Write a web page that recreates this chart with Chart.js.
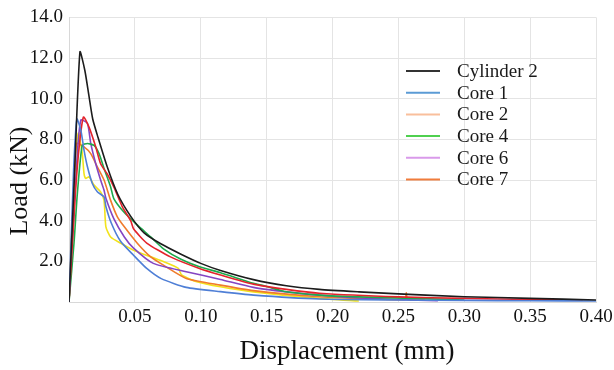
<!DOCTYPE html>
<html>
<head>
<meta charset="utf-8">
<script src="https://cdn.jsdelivr.net/npm/chart.js@4/dist/chart.umd.min.js"></script>
<style>
  html, body { margin: 0; padding: 0; background: #fff; }
  #wrap { width: 614px; height: 370px; }
</style>
</head>
<body>
<div id="wrap"><canvas id="myChart" width="614" height="370"></canvas></div>
<script>
// series names and colours (legend swatches are drawn lighter, like the source)
const seriesNames = ["Cylinder 2", "Core 1", "Core 2", "Core 4", "Core 6", "Core 7", ""];
const lineColors = ["#1c1c1c", "#4f7fd6", "#e3232b", "#1daa4c", "#8445c2", "#f07b2c", "#f2e31c"];
const legendColors = ["#333333", "#5b9bd5", "#f9bf9c", "#4fd04f", "#d99aea", "#f07c3c"];

// displacement (mm) / load (kN) pairs
const cylinder2 = [[0,0],[0.004,6],[0.0083,12.3],[0.012,11.4],[0.015,10.2],[0.018,9.0],[0.022,8.1],[0.029,6.65],
  [0.037,5.3],[0.047,4.2],[0.057,3.4],[0.07,2.85],[0.085,2.35],[0.1,1.9],[0.115,1.55],[0.14,1.1],[0.165,0.8],
  [0.19,0.62],[0.22,0.5],[0.25,0.4],[0.3,0.26],[0.35,0.18],[0.4,0.1]];
const core1 = [[0,0],[0.0035,6.5],[0.006,9.0],[0.009,8.45],[0.0114,7.47],[0.014,6.65],[0.0177,5.83],[0.0215,5.42],
  [0.0266,5.17],[0.028,4.7],[0.032,3.9],[0.039,3.0],[0.049,2.3],[0.059,1.65],[0.07,1.15],[0.089,0.72],[0.115,0.51],
  [0.14,0.34],[0.19,0.15],[0.25,0.1],[0.3,0.08],[0.35,0.06],[0.4,0.05]];
const core2 = [[0,0],[0.005,5.5],[0.008,7.8],[0.011,9.1],[0.0152,8.6],[0.0203,7.63],[0.024,6.8],[0.029,6.3],
  [0.034,5.66],[0.0405,4.68],[0.0468,4.0],[0.049,3.6],[0.059,2.9],[0.077,2.22],[0.099,1.65],[0.115,1.33],
  [0.14,0.88],[0.165,0.62],[0.19,0.43],[0.25,0.25],[0.3,0.18],[0.35,0.12],[0.39,0.1]];
const core4 = [[0,0],[0.0038,2.9],[0.0063,5.3],[0.010,7.7],[0.014,7.8],[0.019,7.7],[0.0228,7.3],[0.0266,6.57],
  [0.0316,5.66],[0.034,5.09],[0.042,4.4],[0.052,3.78],[0.062,3.2],[0.072,2.6],[0.085,2.1],[0.099,1.73],[0.115,1.44],
  [0.14,0.92],[0.148,0.8],[0.165,0.5],[0.19,0.34],[0.22,0.25],[0.26,0.18],[0.3,0.1]];
const core6 = [[0,0],[0.006,7.0],[0.009,8.95],[0.014,8.78],[0.0165,7.8],[0.0203,6.8],[0.024,6.0],[0.0266,5.5],
  [0.028,5.1],[0.034,4.1],[0.042,3.2],[0.049,2.65],[0.064,1.9],[0.089,1.49],[0.115,1.11],[0.14,0.72],
  [0.165,0.5],[0.19,0.34],[0.22,0.2],[0.25,0.12],[0.28,0.06]];
const core7 = [[0,0],[0.0035,5.5],[0.0058,7.8],[0.0114,7.63],[0.0165,7.3],[0.0215,6.65],[0.0266,6.0],[0.0316,5.0],
  [0.0367,4.19],[0.042,3.7],[0.052,2.88],[0.062,2.22],[0.072,1.8],[0.089,1.16],[0.115,0.83],[0.14,0.56],
  [0.19,0.26],[0.22,0.18],[0.255,0.12],[0.256,0.45],[0.257,0.12],[0.27,0.1]];
const yellow = [[0,0],[0.004,6.0],[0.007,8.3],[0.0101,7.3],[0.0114,6.32],[0.0127,6.08],[0.0152,6.16],[0.019,5.75],
  [0.024,5.42],[0.0266,5.0],[0.028,3.7],[0.0316,3.2],[0.039,2.9],[0.049,2.55],[0.062,2.22],[0.072,1.98],
  [0.083,1.65],[0.0855,1.33],[0.097,1.0],[0.115,0.75],[0.14,0.5],[0.19,0.18],[0.22,0.05]];
const allSeries = [cylinder2, core1, core2, core4, core6, core7, yellow];

// axis ticks
const xTicks = [0.05, 0.10, 0.15, 0.20, 0.25, 0.30, 0.35, 0.40];
const yTicks = [2, 4, 6, 8, 10, 12, 14];

const serif = "'Liberation Serif', 'DejaVu Serif', serif";

// legend inside the plot + axis titles (placed off-centre, as in the source)
const extras = {
  id: 'extras',
  afterDraw(chart) {
    const ctx = chart.ctx;
    ctx.save();
    ctx.font = "19px " + serif;
    ctx.textBaseline = 'middle';
    ctx.fillStyle = '#1a1a1a';
    chart.data.datasets.forEach((ds, i) => {
      if (!ds.label) return;
      const y = 71 + i * 21.7;
      ctx.strokeStyle = legendColors[i];
      ctx.lineWidth = 2;
      ctx.beginPath();
      ctx.moveTo(406, y);
      ctx.lineTo(440, y);
      ctx.stroke();
      ctx.fillText(ds.label, 457, y + 1);
    });
    ctx.font = "27px " + serif;
    ctx.fillStyle = '#111';
    ctx.textAlign = 'center';
    ctx.fillText('Displacement (mm)', 347, 352);
    ctx.translate(20, 181);
    ctx.rotate(-Math.PI / 2);
    ctx.font = "26px " + serif;
    ctx.fillText('Load (kN)', 0, 0);
    ctx.restore();
  }
};

new Chart(document.getElementById('myChart'), {
  type: 'scatter',
  data: {
    datasets: allSeries.map((pts, i) => ({
      label: seriesNames[i],
      data: pts.map(p => ({ x: p[0], y: p[1] })),
      showLine: true,
      borderColor: lineColors[i],
      backgroundColor: lineColors[i],
      borderWidth: 1.6,
      pointRadius: 0,
      tension: 0.2
    }))
  },
  options: {
    responsive: false,
    animation: false,
    layout: { padding: { top: 17, right: 18, left: 0, bottom: 0 } },
    plugins: { legend: { display: false }, tooltip: { enabled: false } },
    scales: {
      x: {
        type: 'linear',
        min: 0, max: 0.4,
        afterBuildTicks: (ax) => { ax.ticks = [0].concat(xTicks).map(v => ({ value: v })); },
        afterFit: (ax) => { ax.height = 68; ax.paddingRight = 0; },
        ticks: {
          callback: (v) => v === 0 ? '' : v.toFixed(2),
          font: { family: serif, size: 19 },
          color: '#111',
          padding: 4,
          maxRotation: 0
        },
        grid: { color: '#e4e4e4', drawTicks: false },
        border: { color: '#d8d8d8' }
      },
      y: {
        min: 0, max: 14,
        afterBuildTicks: (ax) => { ax.ticks = [0].concat(yTicks).map(v => ({ value: v })); },
        afterFit: (ax) => { ax.width = 69; },
        ticks: {
          callback: (v) => v === 0 ? '' : v.toFixed(1),
          font: { family: serif, size: 19 },
          color: '#111',
          padding: 6
        },
        grid: { color: '#e4e4e4', drawTicks: false },
        border: { color: '#d8d8d8' }
      }
    }
  },
  plugins: [extras]
});
</script>
</body>
</html>
